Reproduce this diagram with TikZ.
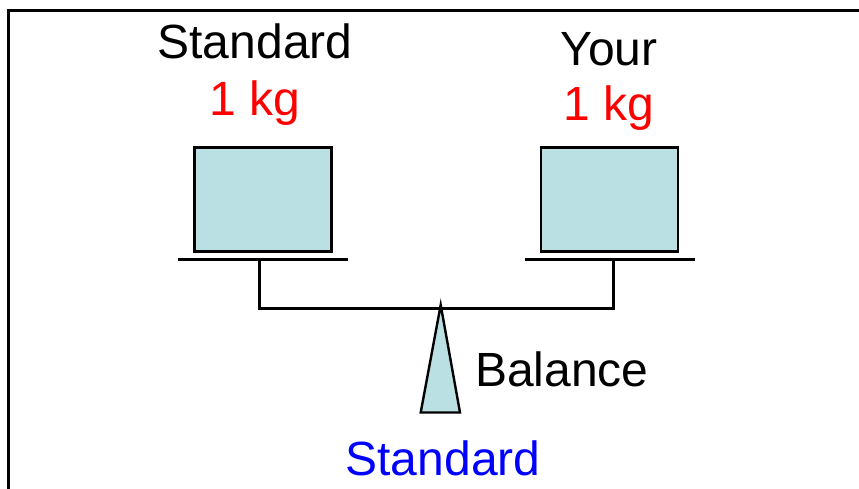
\documentclass[tikz,border=0pt]{standalone}
\usepackage{fontspec}
\setmainfont{Liberation Sans}
\definecolor{panfill}{RGB}{187,224,227}
\tikzset{
  weight/.style={draw=black, line width=2.4pt, fill=panfill, minimum width=137pt, minimum height=104pt, inner sep=0pt},
  bar/.style={line width=3pt},
  caption/.style={font=\fontsize{48}{48}\selectfont, anchor=base, inner sep=0pt},
}
\begin{document}
\begin{tikzpicture}[x=1pt,y=-1pt]
  \useasboundingbox (0,0) rectangle (859,488);
  \clip (0,0) rectangle (859,488);
  % outer frame, running off the right and bottom edges
  \draw[line width=3pt] (8.8,10.5) rectangle (880,520);

  % the two weights on their pans
  \node[weight] (stdmass) at (263,199.5) {};
  \node[weight] (yourmass) at (609.5,199.5) {};

  % pans, stems and beam
  \coordinate (lpanL) at (177.5,259.5);
  \coordinate (lpanR) at (347.5,259.5);
  \coordinate (rpanL) at (525,259.5);
  \coordinate (rpanR) at (695,259.5);
  \coordinate (lstem) at (259.3,259.5);
  \coordinate (rstem) at (613.3,259.5);
  \coordinate (lbeam) at (259.3,308.3);
  \coordinate (rbeam) at (613.3,308.3);
  \draw[bar] (lpanL) -- (lpanR);
  \draw[bar] (rpanL) -- (rpanR);
  \draw[bar, line join=miter] (lstem) -- (lbeam) -- (rbeam) -- (rstem);

  % fulcrum
  \coordinate (apex) at (440.7,305);
  \coordinate (baseL) at (420.7,412.5);
  \coordinate (baseR) at (460,412.5);
  \draw[line width=2.4pt, fill=panfill, line join=miter] (apex) -- (baseR) -- (baseL) -- cycle;

  % labels
  \node[caption] (stdname) at (255,58.3) {Standard};
  \node[caption, text=red] (stdkg) at (255,115) {1 kg};
  \node[caption] (yourname) at (609,65.7) {Your};
  \node[caption, text=red] (yourkg) at (609,120.7) {1 kg};
  \node[caption, anchor=base west] (balname) at (475,386) {Balance};
  \node[caption, text=blue] (fulcname) at (443,475) {Standard};
\end{tikzpicture}
\end{document}
